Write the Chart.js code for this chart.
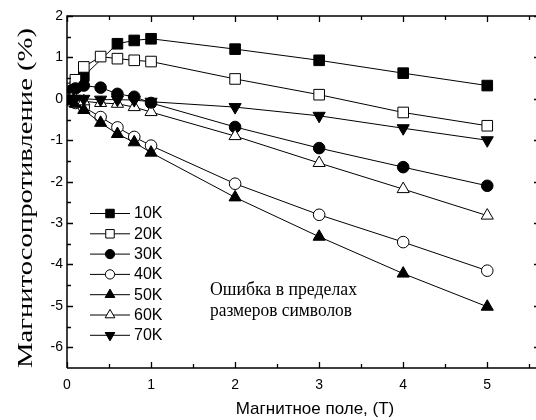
<!DOCTYPE html>
<html lang="ru">
<head>
  <meta charset="UTF-8" />
  <title>Магнитосопротивление</title>
  <script src="https://cdn.jsdelivr.net/npm/chart.js"></script>
  <style>
    html, body { margin: 0; padding: 0; background: #fff; overflow: hidden; }
    #wrap { width: 536px; height: 420px; }
  </style>
</head>
<body>
  <div id="wrap"><canvas id="mrChart" width="536" height="420"></canvas></div>

  <script>
    // field values (T)
    const field = [0, 0.05, 0.1, 0.2, 0.4, 0.6, 0.8, 1, 2, 3, 4, 5];

    const labels = ['10K', '20K', '30K', '40K', '50K', '60K', '70K'];

    // magnetoresistance (%) for each temperature
    const mr10 = [0, 0.15, 0.3, 0.55, null, 1.33, 1.41, 1.45, 1.2, 0.93, 0.62, 0.32];
    const mr20 = [0, 0.25, 0.46, 0.77, 1.02, 0.97, 0.93, 0.9, 0.48, 0.1, -0.33, -0.65];
    const mr30 = [0, 0.2, 0.25, 0.32, 0.27, 0.12, 0.05, -0.1, -0.68, -1.19, -1.65, -2.1];
    const mr40 = [0, -0.05, -0.1, -0.2, -0.44, -0.69, -0.92, -1.13, -2.05, -2.8, -3.46, -4.15];
    const mr50 = [0, -0.05, -0.12, -0.27, -0.58, -0.85, -1.05, -1.3, -2.38, -3.33, -4.22, -5.02];
    const mr60 = [0, 0, -0.03, -0.06, -0.1, -0.12, -0.2, -0.32, -0.9, -1.55, -2.18, -2.82];
    const mr70 = [0, 0, 0, 0, -0.02, -0.02, -0.03, -0.07, -0.2, -0.41, -0.71, -1.0];

    const series = [mr10, mr20, mr30, mr40, mr50, mr60, mr70];

    // marker styles
    const shapes = ['rect', 'rect', 'circle', 'circle', 'triangle', 'triangle', 'triangle'];
    const filled = [true, false, true, false, true, false, true];
    const rotations = [0, 0, 0, 0, 0, 0, 180];
    const radii = [7.5, 7.5, 5.8, 5.8, 7, 7, 7];

    const xTicks = [0, 1, 2, 3, 4, 5];
    const yTicks = [-6, -5, -4, -3, -2, -1, 0, 1, 2];

    const datasets = series.map((vals, i) => ({
      label: labels[i],
      data: field.map((f, j) => ({ x: f, y: vals[j] })),
      borderColor: '#000',
      borderWidth: 1,
      backgroundColor: filled[i] ? '#000' : '#fff',
      pointBackgroundColor: filled[i] ? '#000' : '#fff',
      pointBorderColor: '#000',
      pointBorderWidth: 1,
      pointStyle: shapes[i],
      pointRotation: rotations[i],
      pointRadius: radii[i],
      pointHoverRadius: radii[i],
      spanGaps: true,
      tension: 0,
      order: 10 - i
    }));

    // stretch a text line to a given width
    function fillFit(ctx, text, x, y, width) {
      const w = ctx.measureText(text).width;
      ctx.save();
      ctx.translate(x, y);
      ctx.scale(width / w, 1);
      ctx.fillText(text, 0, 0);
      ctx.restore();
    }

    // axis frame, inward ticks, axis titles, legend, note
    const framePlugin = {
      id: 'frame',
      afterDraw(chart) {
        const ctx = chart.ctx;
        const a = chart.chartArea;
        const xs = chart.scales.x, ys = chart.scales.y;
        ctx.save();
        ctx.strokeStyle = '#000';
        ctx.lineWidth = 1.5;
        ctx.beginPath();
        ctx.moveTo(a.left, a.bottom); ctx.lineTo(a.left, a.top); ctx.lineTo(a.right, a.top);
        ctx.moveTo(a.left, a.bottom); ctx.lineTo(a.right, a.bottom);
        ctx.stroke();

        ctx.lineWidth = 1.3;
        ctx.beginPath();
        for (let v = 0; v <= xs.max + 1e-6; v += 0.5) {
          const px = Math.round(xs.getPixelForValue(v)) + 0.5;
          const len = Number.isInteger(v) ? 6 : 4;
          ctx.moveTo(px, a.bottom); ctx.lineTo(px, a.bottom - len);
          ctx.moveTo(px, a.top); ctx.lineTo(px, a.top + len);
        }
        for (let v = -6; v <= 2 + 1e-6; v += 0.5) {
          const py = Math.round(ys.getPixelForValue(v)) + 0.5;
          const len = Number.isInteger(v) ? 6 : 4;
          ctx.moveTo(a.left, py); ctx.lineTo(a.left + len, py);
          if (Number.isInteger(v)) { ctx.moveTo(a.right, py); ctx.lineTo(a.right - 2, py); }
        }
        ctx.stroke();

        ctx.fillStyle = '#000';
        // y title, serif, stretched along its length
        ctx.save();
        ctx.translate(27, 198);
        ctx.rotate(-Math.PI / 2);
        ctx.font = '20px "Liberation Serif", "Times New Roman", serif';
        ctx.textAlign = 'center';
        ctx.textBaseline = 'middle';
        fillFit(ctx, 'Магнитосопротивление (%)', 0, 0, 340);
        ctx.restore();

        // x title
        ctx.font = '17px "Liberation Sans", Arial, sans-serif';
        ctx.textAlign = 'center';
        ctx.textBaseline = 'middle';
        ctx.fillText('Магнитное поле, (T)', 315, 409);

        // note
        ctx.font = '19px "Liberation Serif", "Times New Roman", serif';
        ctx.textAlign = 'left';
        ctx.textBaseline = 'alphabetic';
        fillFit(ctx, 'Ошибка в пределах', 210, 295, 147);
        fillFit(ctx, 'размеров символов', 210, 316, 142);

        // legend
        ctx.font = '16px "Liberation Sans", Arial, sans-serif';
        ctx.textBaseline = 'middle';
        chart.data.datasets.forEach((ds, i) => {
          const y = 213 + i * 20.3;
          ctx.lineWidth = 1;
          ctx.strokeStyle = '#000';
          ctx.beginPath();
          ctx.moveTo(90, y + 0.5); ctx.lineTo(130, y + 0.5);
          ctx.stroke();
          ctx.fillStyle = ds.pointBackgroundColor;
          Chart.helpers.drawPoint(ctx, {
            pointStyle: ds.pointStyle,
            rotation: ds.pointRotation,
            radius: ds.pointRadius * 0.8,
            borderWidth: 1
          }, 110, y + 0.5);
          ctx.fillStyle = '#000';
          ctx.fillText(ds.label, 134, y + 1);
        });
        ctx.restore();
      }
    };

    new Chart(document.getElementById('mrChart'), {
      type: 'line',
      data: { datasets },
      options: {
        responsive: false,
        animation: false,
        layout: { autoPadding: false, padding: { top: 16, right: 0, left: 0, bottom: 0 } },
        plugins: {
          legend: { display: false },
          title: { display: false },
          tooltip: { enabled: false }
        },
        scales: {
          x: {
            type: 'linear',
            min: 0,
            max: 5.58,
            afterFit: s => { s.height = 52; s.paddingLeft = 0; s.paddingRight = 0; },
            afterBuildTicks: s => { s.ticks = xTicks.map(v => ({ value: v })); },
            ticks: {
              color: '#000',
              padding: 9,
              font: { family: '"Liberation Sans", Arial, sans-serif', size: 14 }
            },
            grid: { display: true, drawOnChartArea: false, drawTicks: false },
            border: { display: false }
          },
          y: {
            min: -6.5,
            max: 2,
            afterFit: s => { s.width = 67; s.paddingTop = 0; s.paddingBottom = 0; },
            afterBuildTicks: s => { s.ticks = yTicks.map(v => ({ value: v })); },
            ticks: {
              color: '#000',
              padding: 4,
              font: { family: '"Liberation Sans", Arial, sans-serif', size: 14 }
            },
            grid: { display: true, drawOnChartArea: false, drawTicks: false },
            border: { display: false }
          }
        }
      },
      plugins: [framePlugin]
    });
  </script>
</body>
</html>
